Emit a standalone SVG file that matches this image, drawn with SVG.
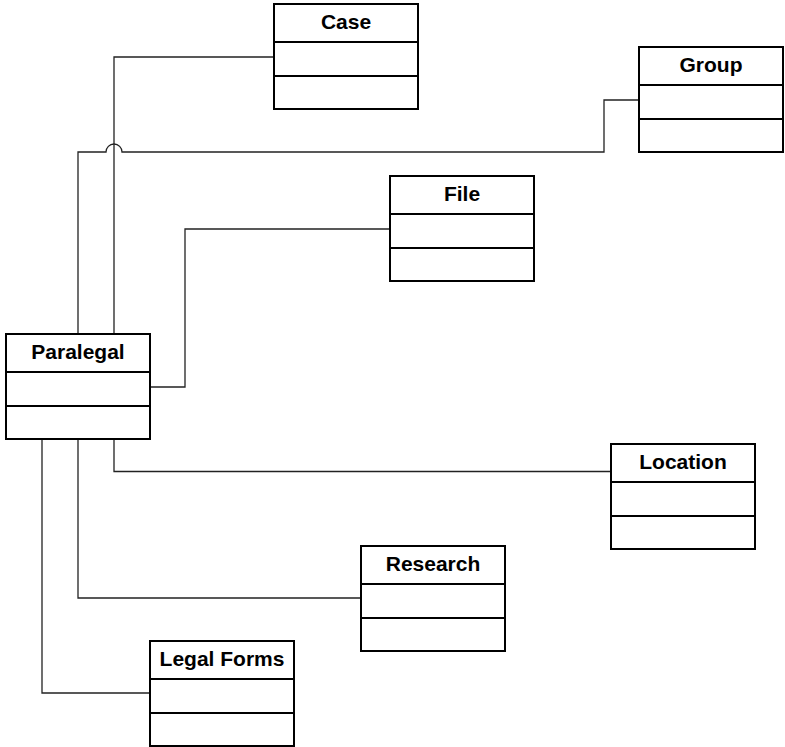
<svg xmlns="http://www.w3.org/2000/svg" width="785" height="747" viewBox="0 0 785 747">
  <style>
    .box { fill: #ffffff; stroke: #000000; stroke-width: 2; }
    .div { stroke: #000000; stroke-width: 2; }
    .title { font-family: "Liberation Sans", Arial, sans-serif; font-weight: bold; font-size: 21px; fill: #000000; text-anchor: middle; }
    .link { fill: none; stroke: #222222; stroke-width: 1.3; }
  </style>
  <defs>
    <!-- class box: name compartment, attribute and operation compartments -->
    <g id="classBox">
      <rect class="box" x="0" y="0" width="144" height="105"/>
      <line class="div" x1="0" y1="38" x2="144" y2="38"/>
      <line class="div" x1="0" y1="72" x2="144" y2="72"/>
    </g>
  </defs>
  <rect width="785" height="747" fill="#ffffff"/>

  <g id="connectors">
    <path class="link" d="M274,57 H114 V334"/>
    <path class="link" d="M639,100 H604 V152 H122 A8,8 0 0 0 106,152 H78 V334"/>
    <path class="link" d="M390,229 H185 V387 H150"/>
    <path class="link" d="M114,439 V471.5 H611"/>
    <path class="link" d="M78,439 V598 H361"/>
    <path class="link" d="M42,439 V693 H150"/>
  </g>

  <g id="case">
    <use href="#classBox" x="274" y="4"/>
    <text class="title" x="346" y="29">Case</text>
  </g>
  <g id="group">
    <use href="#classBox" x="639" y="47"/>
    <text class="title" x="711" y="72">Group</text>
  </g>
  <g id="file">
    <use href="#classBox" x="390" y="176"/>
    <text class="title" x="462" y="201">File</text>
  </g>
  <g id="paralegal">
    <use href="#classBox" x="6" y="334"/>
    <text class="title" x="78" y="359">Paralegal</text>
  </g>
  <g id="location">
    <use href="#classBox" x="611" y="444"/>
    <text class="title" x="683" y="469">Location</text>
  </g>
  <g id="research">
    <use href="#classBox" x="361" y="546"/>
    <text class="title" x="433" y="571">Research</text>
  </g>
  <g id="legal-forms">
    <use href="#classBox" x="150" y="641"/>
    <text class="title" x="222" y="666">Legal Forms</text>
  </g>
</svg>
